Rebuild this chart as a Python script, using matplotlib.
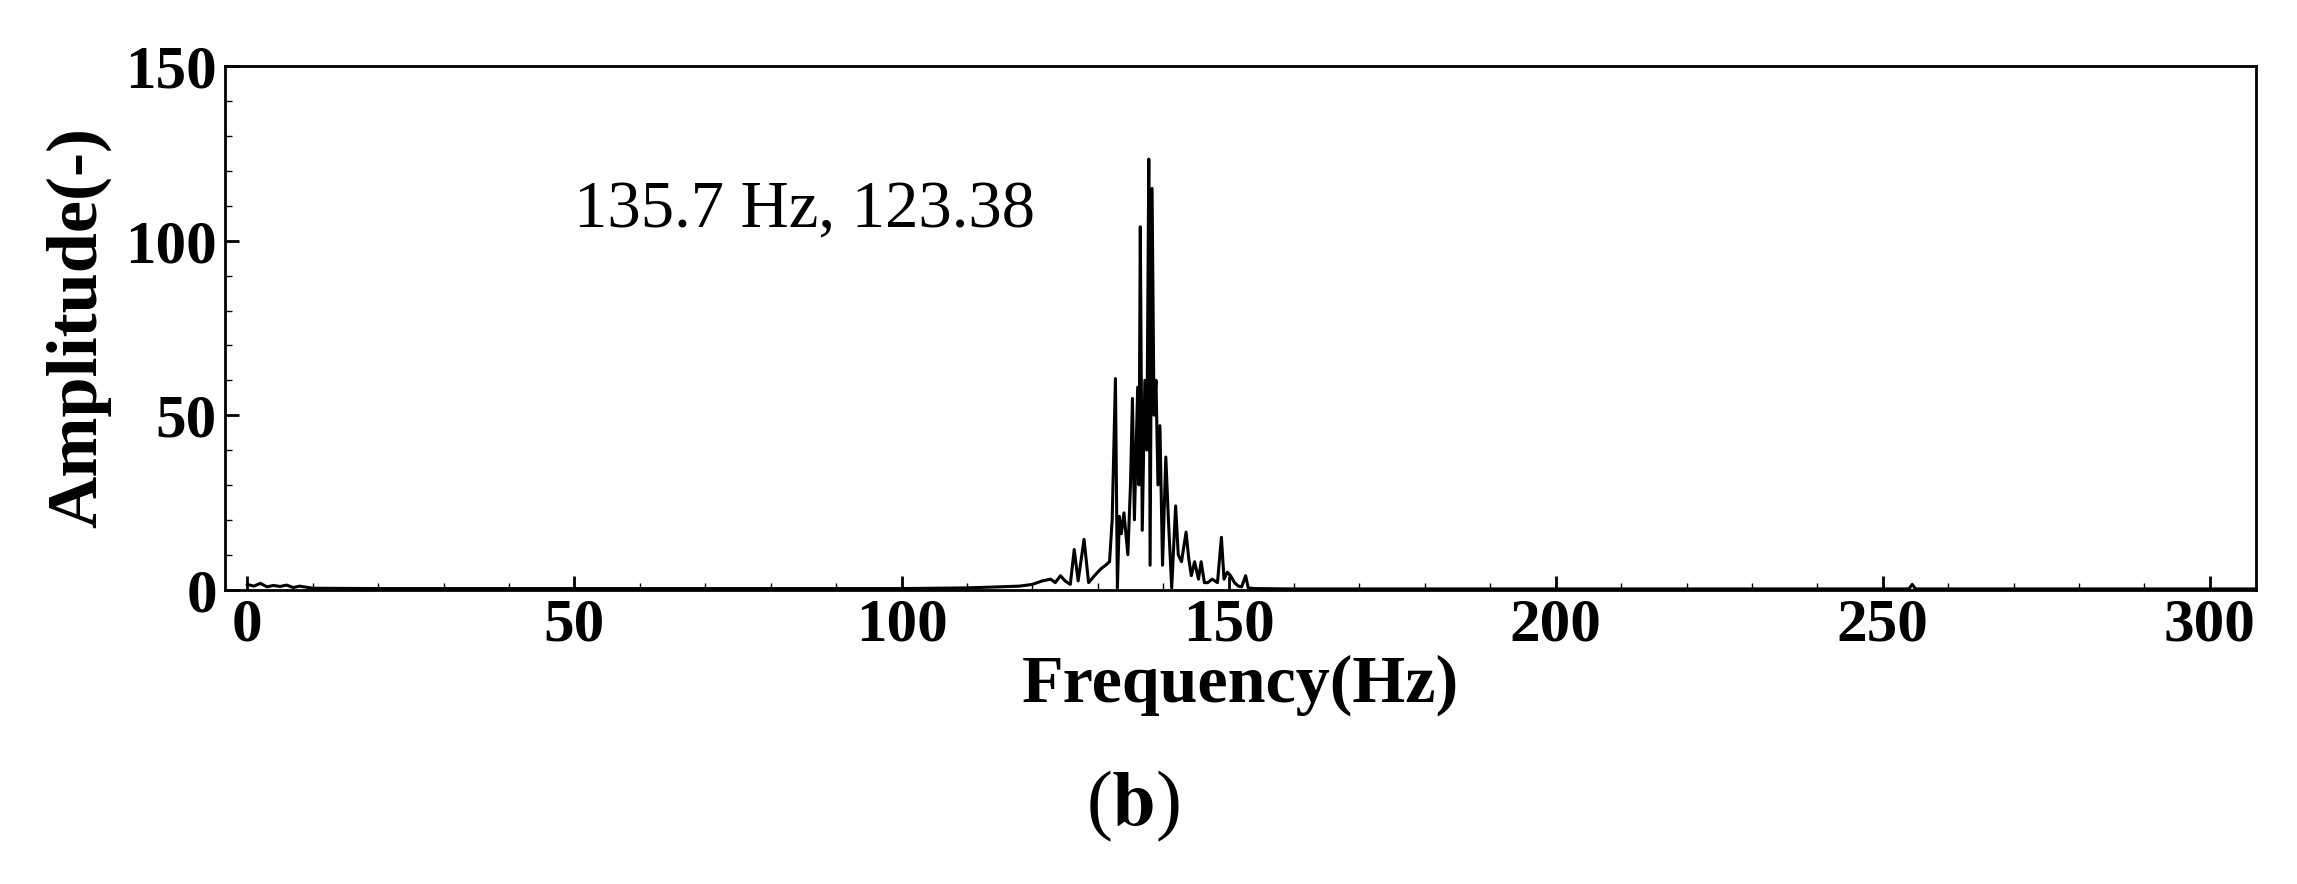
import numpy as np
import matplotlib.pyplot as plt
from matplotlib.ticker import MultipleLocator

# spectrum (Hz, amplitude)
freq = [0, 1, 2, 3, 4, 5, 6, 7, 8, 10, 20, 60, 100, 110, 115, 118, 120, 121.5,
        122.8, 123.5, 124.3, 125, 125.8, 126.4, 127, 127.9, 128.6, 129.5, 130.5,
        131.2, 131.8, 132.2, 132.7, 133.0, 133.3, 133.6, 134.0, 134.6, 135.0,
        135.3, 135.6, 136.1, 136.3, 136.5, 136.8, 137.2, 137.5, 137.8, 138.0,
        138.3, 138.6, 138.9, 139.2, 139.5, 139.9, 140.4, 140.8, 141.3, 141.9,
        142.3, 142.8, 143.5, 143.9, 144.3, 144.8, 145.4, 145.8, 146.3, 146.8,
        147.5, 148.3, 148.9, 149.3, 149.8, 150.3, 150.9, 151.5, 152.0, 152.6,
        153.0, 154, 160, 200, 250, 254, 254.5, 255, 300, 308]
amp = [1.5, 1.0, 1.8, 0.8, 1.2, 0.9, 1.3, 0.6, 1.0, 0.4, 0.3, 0.3, 0.3, 0.5, 0.8,
       1.0, 1.5, 2.5, 3.0, 2.0, 4.0, 2.5, 1.5, 11.5, 2.5, 14.4, 2.0, 4.0, 6.0, 7.0,
       8.0, 20.0, 60.5, 0.5, 21.0, 16.0, 22.0, 10.0, 30.0, 54.8, 20.0, 58.0, 30.0,
       104.0, 17.0, 60.0, 40.0, 123.4, 7.0, 115.0, 50.0, 60.0, 30.0, 47.0, 7.0,
       38.0, 20.0, 0.5, 24.0, 10.0, 8.0, 16.5, 9.0, 4.0, 8.0, 3.0, 8.0, 2.0, 2.0,
       3.0, 2.0, 15.0, 3.0, 5.0, 4.0, 2.0, 1.0, 0.8, 4.0, 0.5, 0.3, 0.2, 0.2, 0.2,
       0.2, 1.5, 0.2, 0.2, 0.2]

annot = "135.7 Hz, 123.38"

plt.rcParams['font.family'] = ['Liberation Serif', 'DejaVu Serif']
plt.rcParams['mathtext.fontset'] = 'stix'

fig = plt.figure(figsize=(22.97, 8.84), dpi=100)
ax = fig.add_axes([0.098, 0.333, 0.884, 0.592])

ax.plot(freq, amp, color="black", linewidth=2.2)

ax.set_xlim(-3.4, 307)
ax.set_ylim(0, 150)
ax.set_xticks([0, 50, 100, 150, 200, 250, 300])
ax.set_yticks([0, 50, 100, 150])
ax.xaxis.set_minor_locator(MultipleLocator(10))
ax.yaxis.set_minor_locator(MultipleLocator(10))
ax.tick_params(which="major", direction="in", length=10, width=2,
               labelsize=44, pad=6)
ax.tick_params(which="minor", direction="in", length=5, width=1)
for lab in ax.get_xticklabels() + ax.get_yticklabels():
    lab.set_fontweight("bold")
for s in ax.spines.values():
    s.set_linewidth(2)

ax.set_xlabel("Frequency(Hz)", fontsize=49, fontweight="bold", labelpad=0)
ax.set_ylabel("Amplitude(-)", fontsize=52, fontweight="bold", labelpad=10)

ax.text(50, 100, annot, fontsize=48, ha="left", va="bottom")

fig.text(0.493, 0.045, r"($\mathbf{b}$)", fontsize=56, ha="center", va="bottom")

fig.savefig("out.png", dpi=100)
